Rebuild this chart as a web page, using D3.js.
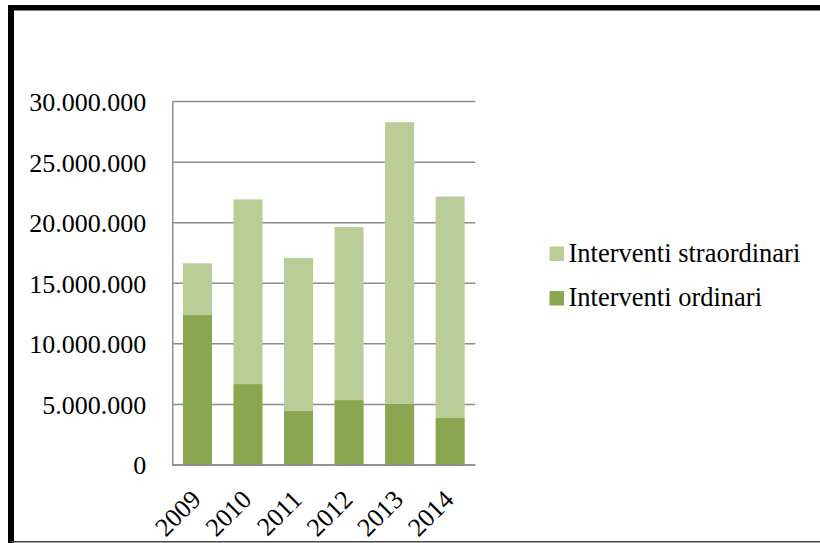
<!DOCTYPE html>
<html>
<head>
<meta charset="utf-8">
<script src="https://cdn.jsdelivr.net/npm/d3@7"></script>
<style>
  html, body { margin: 0; padding: 0; background: #fff; overflow: hidden; }
  svg { display: block; }
  svg text { font-family: "Liberation Serif", "DejaVu Serif", serif !important; fill: #000; }
</style>
</head>
<body>
<svg id="chart" width="820" height="543"></svg>
<script>
const years = ["2009", "2010", "2011", "2012", "2013", "2014"];
const ordinari = [12380000, 6680000, 4460000, 5360000, 5060000, 3880000];
const straordinari = [4270000, 15250000, 12640000, 14280000, 23240000, 18290000];
const yTicks = [0, 5000000, 10000000, 15000000, 20000000, 25000000, 30000000];
const seriesNames = ["Interventi ordinari", "Interventi straordinari"];
const seriesColors = ["#8AA650", "#BACD98"];

const svg = d3.select("#chart");

// frame (top and left thick, bottom thin)
svg.append("line").attr("x1", 8).attr("x2", 820).attr("y1", 7.8).attr("y2", 7.8)
  .attr("stroke", "#000").attr("stroke-width", 5.5);
svg.append("line").attr("x1", 11).attr("x2", 11).attr("y1", 5).attr("y2", 543)
  .attr("stroke", "#000").attr("stroke-width", 6);
svg.append("line").attr("x1", 11).attr("x2", 820).attr("y1", 541.8).attr("y2", 541.8)
  .attr("stroke", "#444").attr("stroke-width", 1.6);

const x = d3.scaleBand().domain(years).range([172.3, 475.3]).paddingInner(0.425).paddingOuter(0.21);
const y = d3.scaleLinear().domain([0, 30000000]).range([465, 101.6]);

const fmt = v => d3.format(",")(v).replace(/,/g, ".");

// gridlines
const grid = svg.append("g");
grid.selectAll("line").data(yTicks).join("line")
  .attr("x1", 172.3).attr("x2", 475.3)
  .attr("y1", d => y(d)).attr("y2", d => y(d))
  .attr("stroke", "#8c8c8c").attr("stroke-width", 1.5);

// y axis
const yAxis = d3.axisLeft(y).tickValues(yTicks).tickSize(0).tickPadding(26).tickFormat(fmt);
const gy = svg.append("g").attr("transform", "translate(172.3,0)").call(yAxis);
gy.attr("font-family", null);
gy.select(".domain").attr("stroke", "#8c8c8c").attr("stroke-width", 1.5);
gy.selectAll("text").attr("font-size", 26).attr("dy", "0.34em");

// stacked bars
const data = years.map((yr, i) => ({ year: yr, ordinari: ordinari[i], straordinari: straordinari[i] }));
const stack = d3.stack().keys(["ordinari", "straordinari"])(data);
svg.append("g").selectAll("g").data(stack).join("g")
  .attr("fill", (d, i) => seriesColors[i])
  .selectAll("rect").data(d => d).join("rect")
  .attr("x", d => x(d.data.year))
  .attr("width", x.bandwidth())
  .attr("y", d => y(d[1]))
  .attr("height", d => y(d[0]) - y(d[1]));

// x axis
const xAxis = d3.axisBottom(x).tickSize(0).tickPadding(0);
const gx = svg.append("g").attr("transform", "translate(0,465)").call(xAxis);
gx.attr("font-family", null);
gx.select(".domain").attr("stroke", "#8c8c8c").attr("stroke-width", 1.5).attr("d", "M172.3,0H475.3");
gx.selectAll("text")
  .attr("font-size", 26)
  .attr("text-anchor", "end")
  .attr("dy", null).attr("y", null)
  .attr("transform", "translate(5,36) rotate(-45)");

// legend
const legendItems = [
  { name: seriesNames[1], color: seriesColors[1] },
  { name: seriesNames[0], color: seriesColors[0] }
];
const lg = svg.append("g").selectAll("g").data(legendItems).join("g")
  .attr("transform", (d, i) => `translate(549.5,${246.5 + i * 44.5})`);
lg.append("rect").attr("width", 14.5).attr("height", 14.5).attr("fill", d => d.color);
lg.append("text").attr("x", 19).attr("y", 15).attr("font-size", 26.5)
  .text(d => d.name);
</script>
</body>
</html>
